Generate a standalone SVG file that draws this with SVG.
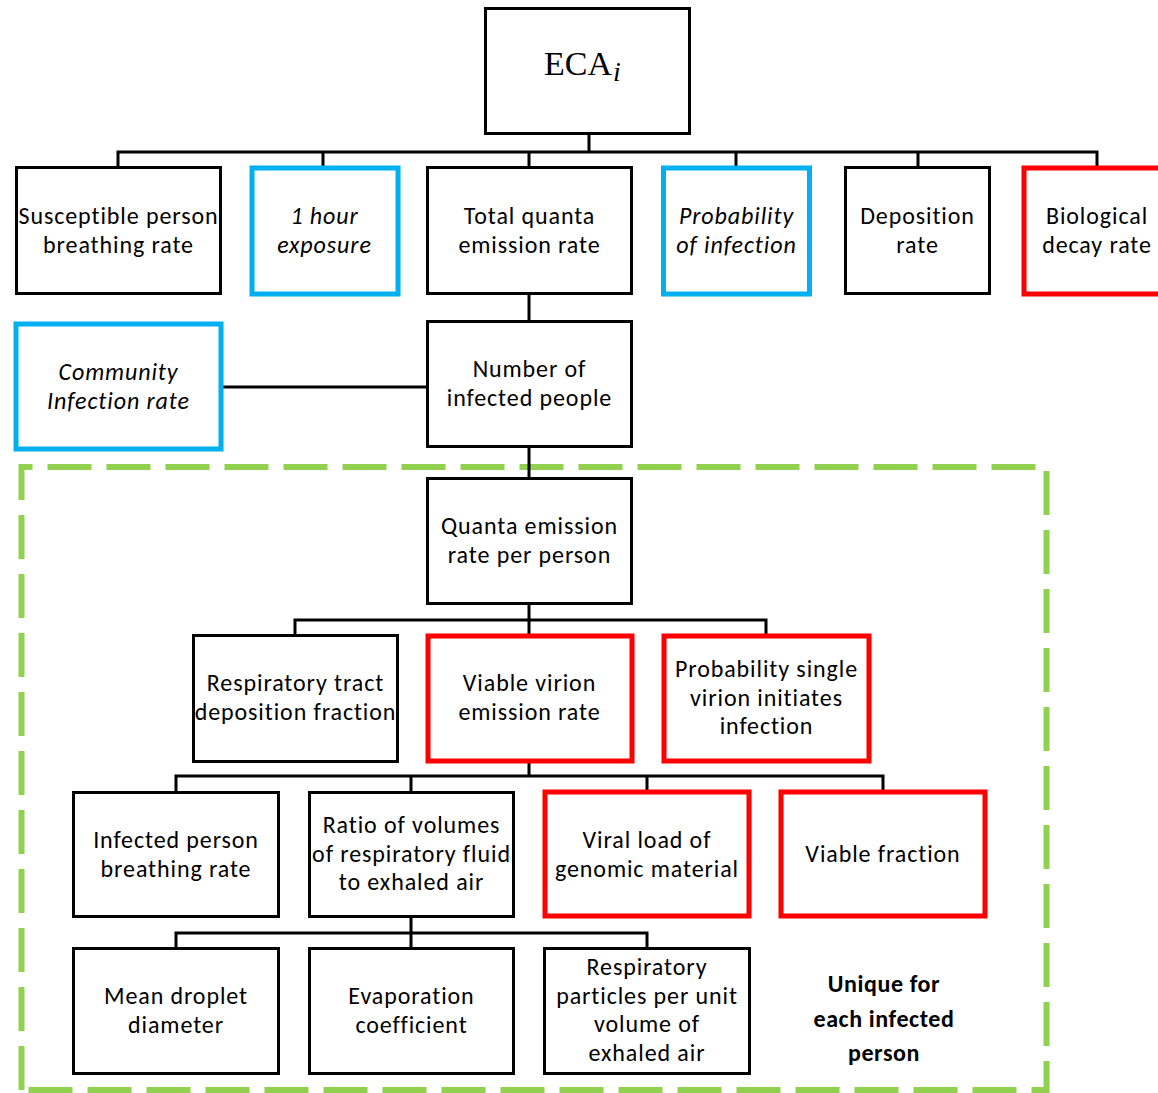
<svg xmlns="http://www.w3.org/2000/svg" width="1158" height="1093" viewBox="0 0 1158 1093">
<style>
.b{fill:#fff;stroke:#000;stroke-width:3}
.bl{fill:#fff;stroke:#00B0F0;stroke-width:5}
.r{fill:#fff;stroke:#FF0000;stroke-width:5}
.t{font-family:Carlito,Lato,"Open Sans",sans-serif;font-size:24px;letter-spacing:0.9px;fill:#000;text-anchor:middle}
.i{font-style:italic}
.bo{font-weight:bold;font-size:24px;letter-spacing:0.6px}
.c{fill:none;stroke:#000;stroke-width:3}
.g{fill:none;stroke:#92D050;stroke-width:6;stroke-dasharray:44 15}
</style>
<rect width="1158" height="1093" fill="#fff"/>
<g id="group-box">
<path class="g" d="M21.5 1090 V467 H1046.5 V1090 Z"/>
</g>
<g id="connectors">
<path class="c" d="M589 134 V152 M118 167 V152 H1097 V167 M323 152 V167 M529 152 V167 M736 152 V167 M918 152 V167"/>
<path class="c" d="M529 294 V321 M222 387 H427 M529 447 V478"/>
<path class="c" d="M529 604 V635 M295 635 V620 H766 V635"/>
<path class="c" d="M529 761 V776 M176 792 V776 H883 V792 M411 776 V792 M647 776 V792"/>
<path class="c" d="M411 917 V948 M176 948 V933 H647 V948"/>
</g>
<g id="eca">
<rect class="b" x="485.5" y="8.5" width="204" height="125"/>
<text x="578" y="75" font-family="'Liberation Serif',serif" font-size="34" text-anchor="middle">ECA</text>
<text x="617" y="81" font-family="'Liberation Serif',serif" font-size="28" font-style="italic" text-anchor="middle">i</text>
</g>
<g id="susceptible">
<rect class="b" x="16.5" y="167.5" width="204" height="126"/>
<text class="t" x="118.5" y="224">Susceptible person</text>
<text class="t" x="118.5" y="253">breathing rate</text>
</g>
<g id="exposure">
<rect class="bl" x="252" y="168" width="146" height="126"/>
<text class="t i" x="324.5" y="224">1 hour</text>
<text class="t i" x="324.5" y="253">exposure</text>
</g>
<g id="total-quanta">
<rect class="b" x="427.5" y="167.5" width="204" height="126"/>
<text class="t" x="529.5" y="224">Total quanta</text>
<text class="t" x="529.5" y="253">emission rate</text>
</g>
<g id="prob-infection">
<rect class="bl" x="663.5" y="168" width="146" height="126"/>
<text class="t i" x="736.5" y="224">Probability</text>
<text class="t i" x="736.5" y="253">of infection</text>
</g>
<g id="deposition">
<rect class="b" x="845.5" y="167.5" width="144" height="126"/>
<text class="t" x="917.5" y="224">Deposition</text>
<text class="t" x="917.5" y="253">rate</text>
</g>
<g id="bio-decay">
<rect class="r" x="1024" y="168" width="146" height="126"/>
<text class="t" x="1097" y="224">Biological</text>
<text class="t" x="1097" y="253">decay rate</text>
</g>
<g id="community">
<rect class="bl" x="16" y="324" width="205" height="125"/>
<text class="t i" x="118.5" y="380">Community</text>
<text class="t i" x="118.5" y="409">Infection rate</text>
</g>
<g id="num-infected">
<rect class="b" x="427.5" y="321.5" width="204" height="125"/>
<text class="t" x="529.5" y="377">Number of</text>
<text class="t" x="529.5" y="406">infected people</text>
</g>
<g id="quanta-per-person">
<rect class="b" x="427.5" y="478.5" width="204" height="125"/>
<text class="t" x="529.5" y="534">Quanta emission</text>
<text class="t" x="529.5" y="563">rate per person</text>
</g>
<g id="resp-tract">
<rect class="b" x="193.5" y="635.5" width="204" height="126"/>
<text class="t" x="295.5" y="691">Respiratory tract</text>
<text class="t" x="295.5" y="720">deposition fraction</text>
</g>
<g id="viable-virion">
<rect class="r" x="428" y="636" width="204" height="125"/>
<text class="t" x="529.5" y="691">Viable virion</text>
<text class="t" x="529.5" y="720">emission rate</text>
</g>
<g id="prob-single">
<rect class="r" x="664" y="636" width="205" height="125"/>
<text class="t" x="766.5" y="677">Probability single</text>
<text class="t" x="766.5" y="706">virion initiates</text>
<text class="t" x="766.5" y="734">infection</text>
</g>
<g id="infected-breathing">
<rect class="b" x="73.5" y="792.5" width="205" height="124"/>
<text class="t" x="176" y="848">Infected person</text>
<text class="t" x="176" y="877">breathing rate</text>
</g>
<g id="ratio-volumes">
<rect class="b" x="309.5" y="792.5" width="204" height="124"/>
<text class="t" x="411.5" y="833">Ratio of volumes</text>
<text class="t" x="411.5" y="862">of respiratory fluid</text>
<text class="t" x="411.5" y="890">to exhaled air</text>
</g>
<g id="viral-load">
<rect class="r" x="545" y="792" width="204" height="124"/>
<text class="t" x="647" y="848">Viral load of</text>
<text class="t" x="647" y="877">genomic material</text>
</g>
<g id="viable-fraction">
<rect class="r" x="781" y="792" width="204" height="124"/>
<text class="t" x="883" y="862">Viable fraction</text>
</g>
<g id="mean-droplet">
<rect class="b" x="73.5" y="948.5" width="205" height="125"/>
<text class="t" x="176" y="1004">Mean droplet</text>
<text class="t" x="176" y="1033">diameter</text>
</g>
<g id="evaporation">
<rect class="b" x="309.5" y="948.5" width="204" height="125"/>
<text class="t" x="411.5" y="1004">Evaporation</text>
<text class="t" x="411.5" y="1033">coefficient</text>
</g>
<g id="resp-particles">
<rect class="b" x="544.5" y="948.5" width="205" height="125"/>
<text class="t" x="647" y="975">Respiratory</text>
<text class="t" x="647" y="1004">particles per unit</text>
<text class="t" x="647" y="1032">volume of</text>
<text class="t" x="647" y="1061">exhaled air</text>
</g>
<g id="unique-label">
<text class="t bo" x="884" y="992">Unique for</text>
<text class="t bo" x="884" y="1027">each infected</text>
<text class="t bo" x="884" y="1061">person</text>
</g>
</svg>
